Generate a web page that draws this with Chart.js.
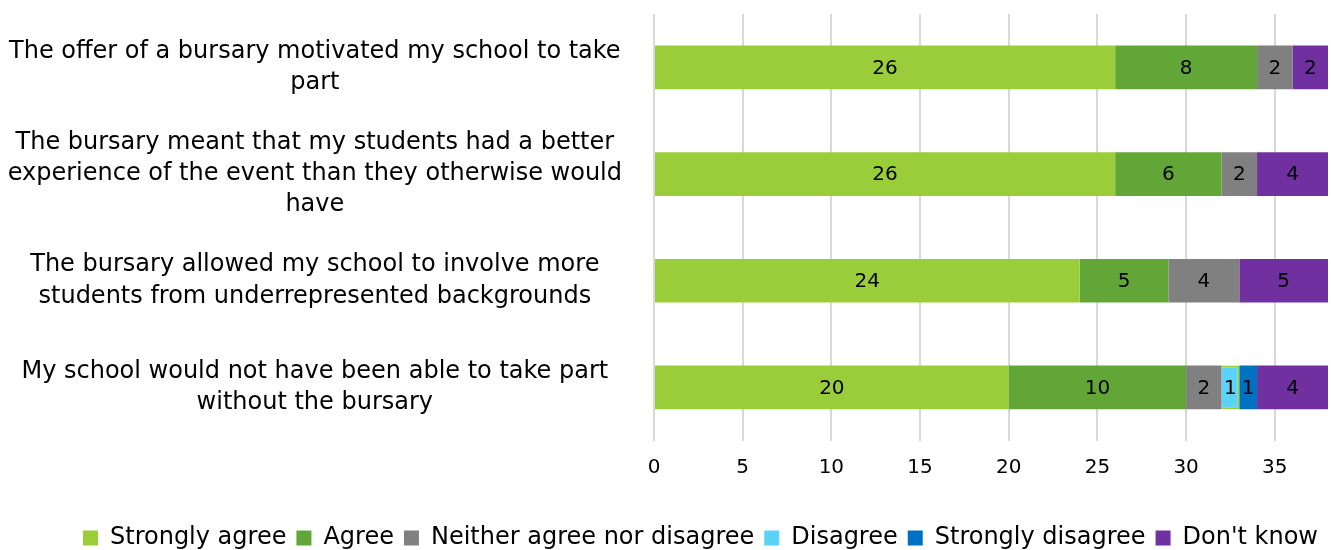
<!DOCTYPE html>
<html>
<head>
<meta charset="utf-8">
<script src="https://cdn.jsdelivr.net/npm/chart.js@4"></script>
<style>
  html, body { margin: 0; padding: 0; background: #fff; }
  #wrap { width: 1331px; height: 550px; }
</style>
</head>
<body>
<div id="wrap"><canvas id="myChart"></canvas></div>
<script>
var categories = [
  ['The offer of a bursary motivated my school to take', 'part'],
  ['The bursary meant that my students had a better', 'experience of the event than they otherwise would', 'have'],
  ['The bursary allowed my school to involve more', 'students from underrepresented backgrounds'],
  ['My school would not have been able to take part', 'without the bursary']
];
var stronglyAgree = [26, 26, 24, 20];
var agree = [8, 6, 5, 10];
var neither = [2, 2, 4, 2];
var disagree = [0, 0, 0, 1];
var stronglyDisagree = [0, 0, 0, 1];
var dontKnow = [2, 4, 5, 4];
var xTicks = [0, 5, 10, 15, 20, 25, 30, 35];

var FONT = 'DejaVu Sans';

// draws the value in the middle of each segment
var barLabels = {
  id: 'barLabels',
  afterDatasetsDraw: function(chart) {
    var ctx = chart.ctx;
    ctx.save();
    ctx.font = '20px "' + FONT + '"';
    ctx.fillStyle = '#000';
    ctx.textAlign = 'center';
    ctx.textBaseline = 'middle';
    chart.data.datasets.forEach(function(ds, i) {
      var meta = chart.getDatasetMeta(i);
      meta.data.forEach(function(bar, j) {
        var v = ds.data[j];
        if (!v) return;
        var x = (bar.x + bar.base) / 2;
        ctx.fillText(String(v), x, bar.y + 1);
      });
    });
    ctx.restore();
  }
};

var ctx = document.getElementById('myChart').getContext('2d');
var myChart = new Chart(ctx, {
  type: 'bar',
  data: {
    labels: categories,
    datasets: [{
      label: 'Strongly agree',
      data: stronglyAgree,
      backgroundColor: '#9ACD3A'
    }, {
      label: 'Agree',
      data: agree,
      backgroundColor: '#62A638'
    }, {
      label: 'Neither agree nor disagree',
      data: neither,
      backgroundColor: '#808080'
    }, {
      label: 'Disagree',
      data: disagree,
      backgroundColor: '#5BD3F8',
      borderColor: '#9ACD3A',
      borderWidth: 2
    }, {
      label: 'Strongly disagree',
      data: stronglyDisagree,
      backgroundColor: '#0070C0'
    }, {
      label: "Don't know",
      data: dontKnow,
      backgroundColor: '#7030A0'
    }]
  },
  options: {
    indexAxis: 'y',
    responsive: true,
    maintainAspectRatio: false,
    animation: false,
    layout: { padding: { top: 14, right: 3, bottom: -10, left: 0 } },
    datasets: { bar: { categoryPercentage: 1, barPercentage: 0.41 } },
    scales: {
      x: {
        stacked: true,
        min: 0,
        max: 38,
        afterBuildTicks: function(scale) {
          scale.ticks = xTicks.map(function(v) { return { value: v }; });
        },
        grid: { color: '#d9d9d9', lineWidth: 2, drawTicks: false },
        border: { display: false },
        ticks: { color: '#000', padding: 15, font: { family: FONT, size: 20 } }
      },
      y: {
        stacked: true,
        grid: { display: false },
        border: { display: false },
        afterFit: function(scale) {
          scale.width = 654;
          scale.paddingTop = 0;
          scale.paddingBottom = 0;
        },
        ticks: {
          color: '#000',
          crossAlign: 'center',
          padding: 24,
          font: { family: FONT, size: 24, lineHeight: 1.3 }
        }
      }
    },
    plugins: {
      legend: {
        position: 'bottom',
        align: 'end',
        title: { display: true, text: '', font: { size: 1 }, padding: { top: 10, bottom: 10 } },
        labels: {
          color: '#000',
          boxWidth: 15,
          boxHeight: 15,
          padding: 10,
          font: { family: FONT, size: 24 },
          generateLabels: function(chart) {
            return chart.data.datasets.map(function(ds, i) {
              return {
                text: ds.label,
                fillStyle: ds.backgroundColor,
                strokeStyle: ds.backgroundColor,
                fontColor: '#000',
                lineWidth: 0,
                datasetIndex: i
              };
            });
          }
        }
      },
      tooltip: { enabled: false }
    }
  },
  plugins: [barLabels]
});
</script>
</body>
</html>
